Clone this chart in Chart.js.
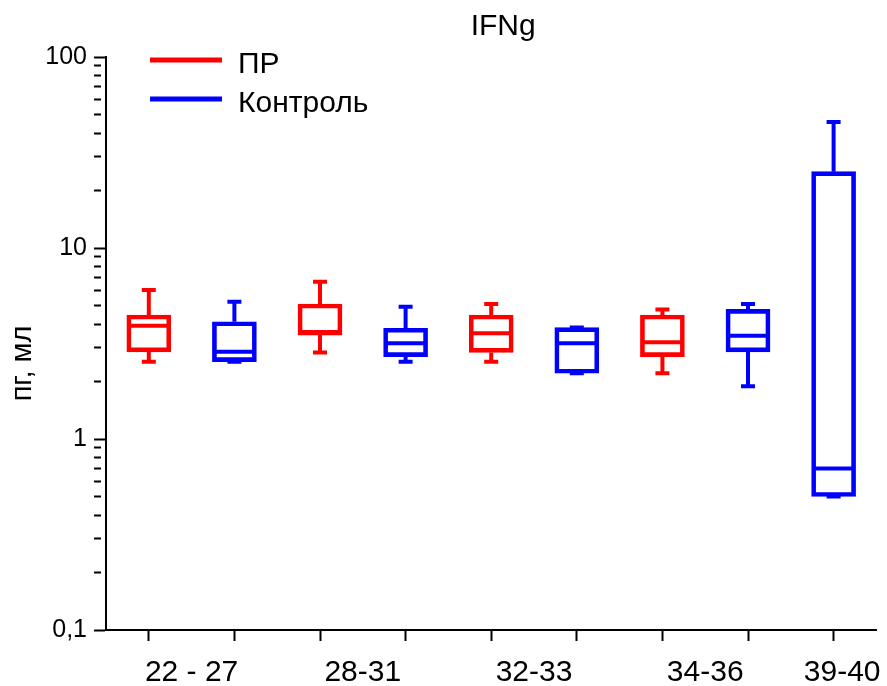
<!DOCTYPE html>
<html>
<head>
<meta charset="utf-8">
<script src="https://cdn.jsdelivr.net/npm/chart.js@4"></script>
<style>
  html, body { margin: 0; padding: 0; background: #fff; }
</style>
</head>
<body>
<canvas id="myChart" width="887" height="686"></canvas>
<script>
// x labels sit between the pairs of boxes
const groupLabels = ['22 - 27', '28-31', '32-33', '34-36', '39-40'];
const labelPositions = [1.5, 3.5, 5.5, 7.5, 9.1];
const tickPositions = [1, 2, 3, 4, 5, 6, 7, 8, 9];

// ПР (red)
const prPositions = [1, 3, 5, 7];
const prMin    = [2.54, 2.84, 2.54, 2.21];
const prQ1     = [2.86, 3.50, 2.84, 2.70];
const prMedian = [3.92, 3.63, 3.58, 3.21];
const prQ3     = [4.46, 5.09, 4.46, 4.46];
const prMax    = [6.03, 6.66, 5.09, 4.77];

// Контроль (blue)
const ctrlPositions = [2, 4, 6, 8, 9];
const ctrlMin    = [2.54, 2.54, 2.21, 1.89, 0.50];
const ctrlQ1     = [2.54, 2.70, 2.21, 2.86, 0.50];
const ctrlMedian = [2.86, 3.17, 3.17, 3.47, 0.70];
const ctrlQ3     = [4.11, 3.80, 3.83, 4.77, 25.1];
const ctrlMax    = [5.23, 4.93, 3.83, 5.09, 45.7];

const yMajorTicks = [0.1, 1, 10, 100];
const yMajorLabels = ['0,1', '1', '10', '100'];

const chartTitle = 'IFNg';
const yTitle = 'пг, мл';

const series = [
  { name: 'ПР', color: '#ff0000', pos: prPositions, min: prMin, q1: prQ1, med: prMedian, q3: prQ3, max: prMax },
  { name: 'Контроль', color: '#0000ff', pos: ctrlPositions, min: ctrlMin, q1: ctrlQ1, med: ctrlMedian, q3: ctrlQ3, max: ctrlMax }
];

// minor ticks 2..9 in each decade
const yTickValues = [];
yMajorTicks.forEach((d, i) => {
  yTickValues.push(d);
  if (i < yMajorTicks.length - 1) {
    for (let k = 2; k <= 9; k++) yTickValues.push(Number((k * d).toPrecision(3)));
  }
});

Chart.defaults.font.family = 'Liberation Sans, Arial, sans-serif';
Chart.defaults.color = '#000';

const whiskerPlugin = {
  id: 'whiskers',
  afterDatasetsDraw(chart) {
    const ctx = chart.ctx;
    const x = chart.scales.x, y = chart.scales.y;
    ctx.save();
    ctx.lineWidth = 4;
    series.forEach(s => {
      ctx.strokeStyle = s.color;
      s.pos.forEach((p, i) => {
        const px = x.getPixelForValue(p);
        const yMin = y.getPixelForValue(s.min[i]);
        const yQ1 = y.getPixelForValue(s.q1[i]);
        const yMed = y.getPixelForValue(s.med[i]);
        const yQ3 = y.getPixelForValue(s.q3[i]);
        const yMax = y.getPixelForValue(s.max[i]);
        ctx.beginPath();
        ctx.moveTo(px, yQ3); ctx.lineTo(px, yMax);
        ctx.moveTo(px, yQ1); ctx.lineTo(px, yMin);
        ctx.moveTo(px - 7, yMax); ctx.lineTo(px + 7, yMax);
        ctx.moveTo(px - 7, yMin); ctx.lineTo(px + 7, yMin);
        ctx.moveTo(px - 21, yMed); ctx.lineTo(px + 21, yMed);
        ctx.stroke();
      });
    });
    ctx.restore();
  }
};

// title, y title and legend placed like the original
const legendPlugin = {
  id: 'cornerLegend',
  afterDraw(chart) {
    const ctx = chart.ctx;
    const area = chart.chartArea;
    ctx.save();
    ctx.font = '30px Liberation Sans, Arial, sans-serif';
    ctx.fillStyle = '#000';
    ctx.textAlign = 'center';
    ctx.textBaseline = 'middle';
    ctx.fillText(chartTitle, (area.left + area.right) / 2 + 12, area.top - 30);

    ctx.save();
    ctx.font = '29px Liberation Sans, Arial, sans-serif';
    ctx.translate(area.left - 83, (area.top + area.bottom) / 2 + 20);
    ctx.rotate(-Math.PI / 2);
    ctx.fillText(yTitle, 0, 0);
    ctx.restore();

    ctx.textAlign = 'left';
    series.forEach((s, i) => {
      const ly = area.top + 3 + i * 39;
      ctx.strokeStyle = s.color;
      ctx.lineWidth = 5;
      ctx.beginPath();
      ctx.moveTo(area.left + 44, ly);
      ctx.lineTo(area.left + 116, ly);
      ctx.stroke();
      ctx.fillText(s.name, area.left + 132, ly + 5);
    });
    ctx.restore();
  }
};

var ctx = document.getElementById('myChart').getContext('2d');

var myChart = new Chart(ctx, {
  type: 'bar',
  data: {
    datasets: series.map(s => ({
      label: s.name,
      data: s.pos.map((p, i) => ({ x: p, y: [s.q1[i], s.q3[i]] })),
      xAxisID: 'x',
      yAxisID: 'y',
      borderColor: s.color,
      backgroundColor: 'rgba(0,0,0,0)',
      borderWidth: 4,
      borderSkipped: false,
      barThickness: 44,
      grouped: false
    }))
  },
  options: {
    responsive: false,
    animation: false,
    layout: { padding: { left: 0, right: 7, top: 57, bottom: 0 } },
    plugins: {
      legend: { display: false },
      tooltip: { enabled: false },
      title: { display: false }
    },
    scales: {
      x: {
        type: 'linear',
        position: 'bottom',
        offset: false,
        min: 0.5,
        max: 9.5,
        afterBuildTicks: axis => { axis.ticks = tickPositions.map(v => ({ value: v })); },
        ticks: { display: false },
        grid: { offset: false, drawOnChartArea: false, tickLength: 11, tickColor: '#000', tickWidth: 2 },
        border: { color: '#000', width: 2 },
        afterFit: s => { s.height = 11; }
      },
      x2: {
        type: 'linear',
        position: 'bottom',
        offset: false,
        min: 0.5,
        max: 9.5,
        afterBuildTicks: axis => { axis.ticks = labelPositions.map(v => ({ value: v })); },
        ticks: {
          callback: (v, i) => groupLabels[i],
          font: { size: 30 },
          color: '#000',
          padding: 6,
          maxRotation: 0,
          autoSkip: false
        },
        grid: { display: false, offset: false },
        border: { display: false },
        afterFit: s => { s.height = 45; }
      },
      y: {
        type: 'logarithmic',
        min: 0.1,
        max: 100,
        afterBuildTicks: axis => { axis.ticks = yTickValues.map(v => ({ value: v, major: yMajorTicks.includes(v) })); },
        ticks: {
          callback: v => { const i = yMajorTicks.indexOf(v); return i >= 0 ? yMajorLabels[i] : ''; },
          font: { size: 25 },
          color: '#000',
          padding: 7,
          autoSkip: false
        },
        grid: {
          drawOnChartArea: false,
          tickLength: 12,
          tickColor: '#000',
          tickWidth: 2,
          tickBorderDash: c => (c.tick && yMajorTicks.includes(c.tick.value)) ? [] : [7, 30]
        },
        border: { color: '#000', width: 2 },
        afterFit: s => { s.width = 106; }
      }
    }
  },
  plugins: [whiskerPlugin, legendPlugin]
});
</script>
</body>
</html>
